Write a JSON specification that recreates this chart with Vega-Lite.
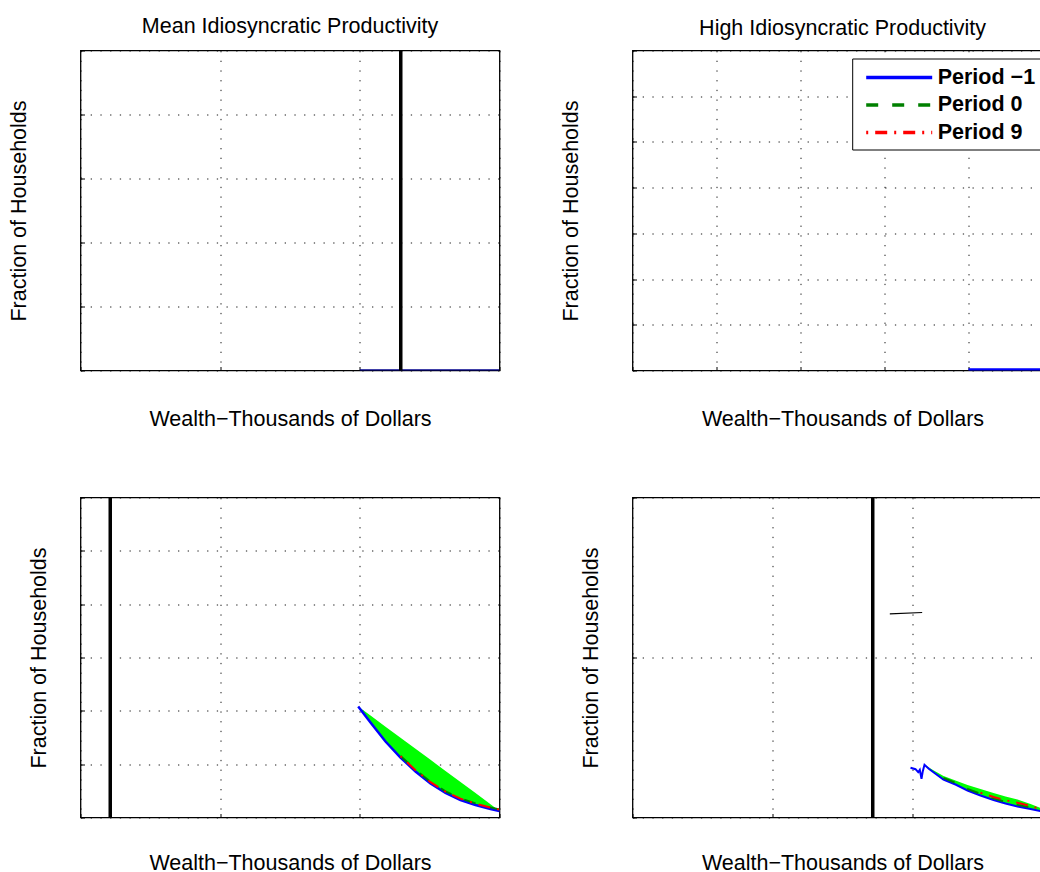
{
  "$schema": "https://vega.github.io/schema/vega-lite/v6.json",
  "background": "white",
  "padding": {"left": 6.5, "top": 15.5, "right": 0, "bottom": 0},
  "bounds": "flush",
  "columns": 2,
  "spacing": {"row": 127, "column": 133},
  "config": {
    "font": "Liberation Sans",
    "view": {"stroke": "black", "strokeWidth": 1.3},
    "axis": {
      "labels": false, "domain": false, "ticks": true, "tickSize": -4, "tickColor": "black", "tickWidth": 1, "grid": true,
      "gridColor": "black", "gridDash": [1.3, 8.4], "gridWidth": 1, "gridOpacity": 0.9,
      "titleFont": "Liberation Sans", "titleFontSize": 21.5, "titleFontWeight": "normal", "titleColor": "black"
    },
    "axisX": {"titlePadding": 37.5},
    "title": {"font": "Liberation Sans", "fontSize": 21.5, "fontWeight": "normal", "color": "black", "offset": 11, "anchor": "middle"}
  },
  "concat": [
    {
      "width": 419, "height": 320,
      "title": "Mean Idiosyncratic Productivity",
      "layer": [
        {
          "data": {"values": [{"w": 200, "f": 0}, {"w": 300, "f": 0}]},
          "mark": {"type": "line", "color": "#00008b", "strokeWidth": 2.5, "clip": true},
          "encoding": {
            "x": {"field": "w", "type": "quantitative", "scale": {"domain": [0, 300]}, "axis": {"values": [0, 100, 200, 300], "title": "Wealth−Thousands of Dollars"}},
            "y": {"field": "f", "type": "quantitative", "scale": {"domain": [0, 0.5]}, "axis": {"values": [0, 0.1, 0.2, 0.3, 0.4, 0.5], "title": "Fraction of Households", "titlePadding": 50}}
          }
        },
        {
          "data": {"values": [{"w": 229.3}]},
          "mark": {"type": "rule", "color": "black", "strokeWidth": 3.5},
          "encoding": {
            "x": {"field": "w", "type": "quantitative", "scale": {"domain": [0, 300]}, "axis": {"values": [0, 100, 200, 300], "title": "Wealth−Thousands of Dollars"}}
          }
        }
      ]
    },
    {
      "width": 420, "height": 320,
      "title": "High Idiosyncratic Productivity",
      "layer": [
        {
          "data": {"values": [{"w": 400, "f": 0, "series": "Period −1"}, {"w": 500, "f": 0, "series": "Period −1"}]},
          "mark": {"type": "line", "strokeWidth": 4.5, "clip": true},
          "encoding": {
            "x": {"field": "w", "type": "quantitative", "scale": {"domain": [0, 500]}, "axis": {"values": [0, 100, 200, 300, 400, 500], "title": "Wealth−Thousands of Dollars"}},
            "y": {"field": "f", "type": "quantitative", "scale": {"domain": [0, 0.07]}, "axis": {"values": [0, 0.01, 0.02, 0.03, 0.04, 0.05, 0.06, 0.07], "title": "Fraction of Households", "titlePadding": 50}},
            "color": {
              "field": "series", "type": "nominal",
              "scale": {"domain": ["Period −1", "Period 0", "Period 9"], "range": ["#0000ff", "#008000", "#ff0000"]},
              "legend": {
                "orient": "none", "legendX": 771.7, "legendY": 8, "title": null,
                "strokeColor": "black", "fillColor": "white", "padding": 6,
                "symbolType": "M-1,0H5", "symbolSize": 484, "symbolStrokeWidth": 3.5, "symbolOffset": 6,
                "labelOffset": 47.5, "labelFontSize": 21.5, "labelFontWeight": "bold", "labelFont": "Liberation Sans",
                "labelColor": "black", "rowPadding": 3.5, "labelExpr": "datum.label + '   '"
              }
            },
            "strokeDash": {
              "field": "series", "type": "nominal",
              "scale": {"domain": ["Period −1", "Period 0", "Period 9"], "range": [[1, 0], [12, 14], [2, 7, 12, 7]]},
              "legend": {
                "orient": "none", "legendX": 771.7, "legendY": 8, "title": null,
                "strokeColor": "black", "fillColor": "white", "padding": 6,
                "symbolType": "M-1,0H5", "symbolSize": 484, "symbolStrokeWidth": 3.5, "symbolOffset": 6,
                "labelOffset": 47.5, "labelFontSize": 21.5, "labelFontWeight": "bold", "labelFont": "Liberation Sans",
                "labelColor": "black", "rowPadding": 3.5, "labelExpr": "datum.label + '   '"
              }
            }
          }
        }
      ]
    },
    {
      "width": 419, "height": 320,
      "layer": [
        {
          "data": {"values": [
            {"w": 198.83, "lo": 0.020813, "hi": 0.020813},
            {"w": 207.64, "lo": 0.017813, "hi": 0.019110},
            {"w": 218.38, "lo": 0.01425, "hi": 0.017034},
            {"w": 229.12, "lo": 0.01125, "hi": 0.014959},
            {"w": 239.86, "lo": 0.008625, "hi": 0.012883},
            {"w": 250.60, "lo": 0.006375, "hi": 0.010808},
            {"w": 261.34, "lo": 0.004594, "hi": 0.008732},
            {"w": 272.08, "lo": 0.003281, "hi": 0.006656},
            {"w": 282.82, "lo": 0.002344, "hi": 0.004581},
            {"w": 293.56, "lo": 0.001594, "hi": 0.002505},
            {"w": 300, "lo": 0.001219, "hi": 0.001219}
          ]},
          "mark": {"type": "area", "color": "#00ff00", "opacity": 1},
          "encoding": {
            "x": {"field": "w", "type": "quantitative", "scale": {"domain": [0, 300]}, "axis": {"values": [0, 100, 200, 300], "title": "Wealth−Thousands of Dollars", "titlePadding": 34.5}},
            "y": {"field": "lo", "type": "quantitative", "scale": {"domain": [0, 0.06]}, "axis": {"values": [0, 0.01, 0.02, 0.03, 0.04, 0.05, 0.06], "title": "Fraction of Households", "titlePadding": 30}},
            "y2": {"field": "hi"}
          }
        },
        {
          "data": {"values": [
            {"w": 198.83, "f": 0.020813},
            {"w": 207.64, "f": 0.017813},
            {"w": 218.38, "f": 0.01425},
            {"w": 229.12, "f": 0.01125},
            {"w": 239.86, "f": 0.008625},
            {"w": 250.60, "f": 0.006375},
            {"w": 261.34, "f": 0.004594},
            {"w": 272.08, "f": 0.003281},
            {"w": 282.82, "f": 0.002344},
            {"w": 293.56, "f": 0.001594},
            {"w": 300, "f": 0.001219}
          ]},
          "mark": {"type": "line", "color": "#0000ff", "strokeWidth": 2.5},
          "encoding": {
            "x": {"field": "w", "type": "quantitative", "scale": {"domain": [0, 300]}, "axis": {"values": [0, 100, 200, 300], "title": "Wealth−Thousands of Dollars", "titlePadding": 34.5}},
            "y": {"field": "f", "type": "quantitative", "scale": {"domain": [0, 0.06]}, "axis": {"values": [0, 0.01, 0.02, 0.03, 0.04, 0.05, 0.06], "title": "Fraction of Households", "titlePadding": 30}}
          }
        },
        {
          "data": {"values": [
            {"w": 229.12, "f": 0.01155},
            {"w": 239.86, "f": 0.008925},
            {"w": 250.60, "f": 0.006675},
            {"w": 261.34, "f": 0.004894},
            {"w": 272.08, "f": 0.003581},
            {"w": 282.82, "f": 0.002644},
            {"w": 293.56, "f": 0.001894},
            {"w": 300, "f": 0.001519}
          ]},
          "mark": {"type": "line", "color": "#008000", "strokeWidth": 2, "strokeDash": [12, 14]},
          "encoding": {
            "x": {"field": "w", "type": "quantitative", "scale": {"domain": [0, 300]}, "axis": {"values": [0, 100, 200, 300], "title": "Wealth−Thousands of Dollars", "titlePadding": 34.5}},
            "y": {"field": "f", "type": "quantitative", "scale": {"domain": [0, 0.06]}, "axis": {"values": [0, 0.01, 0.02, 0.03, 0.04, 0.05, 0.06], "title": "Fraction of Households", "titlePadding": 30}}
          }
        },
        {
          "data": {"values": [
            {"w": 229.12, "f": 0.0115},
            {"w": 239.86, "f": 0.008875},
            {"w": 250.60, "f": 0.006625},
            {"w": 261.34, "f": 0.004844},
            {"w": 272.08, "f": 0.003531},
            {"w": 282.82, "f": 0.002594},
            {"w": 293.56, "f": 0.001844},
            {"w": 300, "f": 0.001469}
          ]},
          "mark": {"type": "line", "color": "#ff0000", "strokeWidth": 2, "strokeDash": [2, 7, 12, 7]},
          "encoding": {
            "x": {"field": "w", "type": "quantitative", "scale": {"domain": [0, 300]}, "axis": {"values": [0, 100, 200, 300], "title": "Wealth−Thousands of Dollars", "titlePadding": 34.5}},
            "y": {"field": "f", "type": "quantitative", "scale": {"domain": [0, 0.06]}, "axis": {"values": [0, 0.01, 0.02, 0.03, 0.04, 0.05, 0.06], "title": "Fraction of Households", "titlePadding": 30}}
          }
        },
        {
          "data": {"values": [{"w": 21.3}]},
          "mark": {"type": "rule", "color": "black", "strokeWidth": 3.5},
          "encoding": {
            "x": {"field": "w", "type": "quantitative", "scale": {"domain": [0, 300]}, "axis": {"values": [0, 100, 200, 300], "title": "Wealth−Thousands of Dollars", "titlePadding": 34.5}}
          }
        }
      ]
    },
    {
      "width": 420, "height": 320,
      "layer": [
        {
          "data": {"values": [
            {"w": 208.57, "lo": 0.003294, "hi": 0.003294},
            {"w": 215.21, "lo": 0.002813, "hi": 0.002938},
            {"w": 222.14, "lo": 0.002375, "hi": 0.002594},
            {"w": 230.71, "lo": 0.002063, "hi": 0.002313},
            {"w": 239.29, "lo": 0.001688, "hi": 0.002031},
            {"w": 248.57, "lo": 0.001375, "hi": 0.001781},
            {"w": 257.86, "lo": 0.001094, "hi": 0.001531},
            {"w": 266.43, "lo": 0.000875, "hi": 0.001313},
            {"w": 275.0, "lo": 0.000688, "hi": 0.001125},
            {"w": 284.29, "lo": 0.000531, "hi": 0.000844},
            {"w": 291.43, "lo": 0.000406, "hi": 0.000594},
            {"w": 300, "lo": 0.000313, "hi": 0.000375}
          ]},
          "mark": {"type": "area", "color": "#00ff00", "opacity": 1},
          "encoding": {
            "x": {"field": "w", "type": "quantitative", "scale": {"domain": [0, 300]}, "axis": {"values": [0, 100, 200, 300], "title": "Wealth−Thousands of Dollars", "titlePadding": 34.5}},
            "y": {"field": "lo", "type": "quantitative", "scale": {"domain": [0, 0.02]}, "axis": {"values": [0, 0.01, 0.02], "title": "Fraction of Households", "titlePadding": 30}},
            "y2": {"field": "hi"}
          }
        },
        {
          "data": {"values": [
            {"w": 198.57, "f": 0.003106},
            {"w": 202.14, "f": 0.003019},
            {"w": 204.07, "f": 0.002831},
            {"w": 205.21, "f": 0.002981},
            {"w": 206.43, "f": 0.002419},
            {"w": 207.36, "f": 0.002894},
            {"w": 208.57, "f": 0.003294},
            {"w": 211.64, "f": 0.003044},
            {"w": 215.21, "f": 0.002813},
            {"w": 222.14, "f": 0.002375},
            {"w": 230.71, "f": 0.002063},
            {"w": 239.29, "f": 0.001688},
            {"w": 248.57, "f": 0.001375},
            {"w": 257.86, "f": 0.001094},
            {"w": 266.43, "f": 0.000875},
            {"w": 275.0, "f": 0.000688},
            {"w": 284.29, "f": 0.000531},
            {"w": 291.43, "f": 0.000406},
            {"w": 300, "f": 0.000313}
          ]},
          "mark": {"type": "line", "color": "#0000ff", "strokeWidth": 2},
          "encoding": {
            "x": {"field": "w", "type": "quantitative", "scale": {"domain": [0, 300]}, "axis": {"values": [0, 100, 200, 300], "title": "Wealth−Thousands of Dollars", "titlePadding": 34.5}},
            "y": {"field": "f", "type": "quantitative", "scale": {"domain": [0, 0.02]}, "axis": {"values": [0, 0.01, 0.02], "title": "Fraction of Households", "titlePadding": 30}}
          }
        },
        {
          "data": {"values": [
            {"w": 222.14, "f": 0.002475},
            {"w": 230.71, "f": 0.002163},
            {"w": 239.29, "f": 0.001788},
            {"w": 248.57, "f": 0.001475},
            {"w": 257.86, "f": 0.001194},
            {"w": 266.43, "f": 0.000975},
            {"w": 275.0, "f": 0.000788},
            {"w": 284.29, "f": 0.000631},
            {"w": 291.43, "f": 0.000506},
            {"w": 300, "f": 0.000413}
          ]},
          "mark": {"type": "line", "color": "#008000", "strokeWidth": 2, "strokeDash": [12, 14]},
          "encoding": {
            "x": {"field": "w", "type": "quantitative", "scale": {"domain": [0, 300]}, "axis": {"values": [0, 100, 200, 300], "title": "Wealth−Thousands of Dollars", "titlePadding": 34.5}},
            "y": {"field": "f", "type": "quantitative", "scale": {"domain": [0, 0.02]}, "axis": {"values": [0, 0.01, 0.02], "title": "Fraction of Households", "titlePadding": 30}}
          }
        },
        {
          "data": {"values": [
            {"w": 248.57, "f": 0.00155},
            {"w": 257.86, "f": 0.00128},
            {"w": 266.43, "f": 0.00108},
            {"w": 275.0, "f": 0.00092},
            {"w": 284.29, "f": 0.00072},
            {"w": 291.43, "f": 0.00052},
            {"w": 300, "f": 0.00036}
          ]},
          "mark": {"type": "line", "color": "#ff0000", "strokeWidth": 2, "strokeDash": [2, 7, 12, 7]},
          "encoding": {
            "x": {"field": "w", "type": "quantitative", "scale": {"domain": [0, 300]}, "axis": {"values": [0, 100, 200, 300], "title": "Wealth−Thousands of Dollars", "titlePadding": 34.5}},
            "y": {"field": "f", "type": "quantitative", "scale": {"domain": [0, 0.02]}, "axis": {"values": [0, 0.01, 0.02], "title": "Fraction of Households", "titlePadding": 30}}
          }
        },
        {
          "data": {"values": [{"w": 183.8, "f": 0.012731}, {"w": 206.9, "f": 0.012813}]},
          "mark": {"type": "line", "color": "black", "strokeWidth": 1.2},
          "encoding": {
            "x": {"field": "w", "type": "quantitative", "scale": {"domain": [0, 300]}, "axis": {"values": [0, 100, 200, 300], "title": "Wealth−Thousands of Dollars", "titlePadding": 34.5}},
            "y": {"field": "f", "type": "quantitative", "scale": {"domain": [0, 0.02]}, "axis": {"values": [0, 0.01, 0.02], "title": "Fraction of Households", "titlePadding": 30}}
          }
        },
        {
          "data": {"values": [{"w": 171.6}]},
          "mark": {"type": "rule", "color": "black", "strokeWidth": 3.5},
          "encoding": {
            "x": {"field": "w", "type": "quantitative", "scale": {"domain": [0, 300]}, "axis": {"values": [0, 100, 200, 300], "title": "Wealth−Thousands of Dollars", "titlePadding": 34.5}}
          }
        }
      ]
    }
  ]
}
